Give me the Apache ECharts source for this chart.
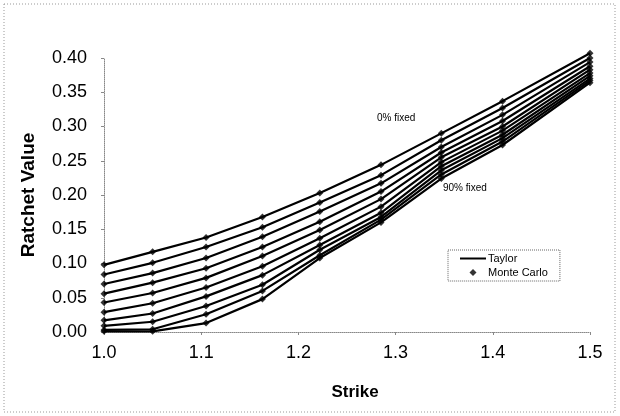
<!DOCTYPE html>
<html>
<head>
<meta charset="utf-8">
<script src="https://cdn.jsdelivr.net/npm/echarts@6/dist/echarts.min.js"></script>
<style>
  html, body { margin: 0; padding: 0; background: #fff; }
  #chart { width: 620px; height: 416px; }
</style>
</head>
<body>
<div id="chart"></div>
<script>
// strike grid
const strikes = [1.0, 1.05, 1.105, 1.163, 1.222, 1.285, 1.347, 1.41, 1.5]
// ratchet values, top curve = 0% fixed ... bottom curve = 90% fixed
const fixed0 = [0.098, 0.117, 0.138, 0.168, 0.203, 0.244, 0.290, 0.337, 0.407]
const fixed10 = [0.084, 0.101, 0.124, 0.153, 0.189, 0.229, 0.280, 0.327, 0.400]
const fixed20 = [0.070, 0.086, 0.108, 0.139, 0.176, 0.217, 0.270, 0.317, 0.394]
const fixed30 = [0.056, 0.072, 0.093, 0.124, 0.161, 0.205, 0.262, 0.308, 0.388]
const fixed40 = [0.043, 0.057, 0.079, 0.111, 0.149, 0.194, 0.255, 0.300, 0.383]
const fixed50 = [0.029, 0.042, 0.065, 0.096, 0.137, 0.183, 0.248, 0.294, 0.378]
const fixed60 = [0.017, 0.027, 0.052, 0.083, 0.127, 0.174, 0.242, 0.288, 0.374]
const fixed70 = [0.009, 0.015, 0.038, 0.069, 0.120, 0.168, 0.236, 0.283, 0.370]
const fixed80 = [0.003, 0.004, 0.026, 0.060, 0.112, 0.164, 0.230, 0.278, 0.367]
const fixed90 = [0.001, 0.001, 0.013, 0.048, 0.108, 0.160, 0.224, 0.273, 0.364]
const curves = [fixed0, fixed10, fixed20, fixed30, fixed40, fixed50, fixed60, fixed70, fixed80, fixed90]

const chart = echarts.init(document.getElementById('chart'))
const font = 'Liberation Sans, Arial, sans-serif'

const series = []
curves.forEach(vals => {
  const pts = strikes.map((s, i) => [s, vals[i]])
  series.push({
    name: 'Taylor',
    type: 'line',
    symbol: 'none',
    clip: false,
    lineStyle: { color: '#000', width: 2.2 },
    itemStyle: { color: '#000' },
    data: pts
  })
  series.push({
    name: 'Monte Carlo',
    type: 'scatter',
    symbol: 'diamond',
    symbolSize: 7,
    clip: false,
    itemStyle: { color: '#000' },
    data: pts
  })
})

const option = {
  animation: false,
  backgroundColor: '#fff',
  grid: { left: 104, right: 30, top: 58, bottom: 84 },
  xAxis: {
    type: 'value',
    min: 1.0,
    max: 1.5,
    interval: 0.1,
    name: 'Strike',
    nameLocation: 'middle',
    nameGap: 52,
    nameTextStyle: { fontFamily: font, fontSize: 17, fontWeight: 'bold', color: '#000', padding: [0, 0, 0, 16] },
    axisLine: { lineStyle: { color: '#888', type: 'dotted' } },
    axisTick: { show: true, length: 3, lineStyle: { color: '#888' } },
    splitLine: { show: false },
    axisLabel: { fontFamily: font, fontSize: 18, color: '#000', margin: 12, formatter: v => v.toFixed(1) }
  },
  yAxis: {
    type: 'value',
    min: 0,
    max: 0.4,
    interval: 0.05,
    name: 'Ratchet Value',
    nameLocation: 'middle',
    nameGap: 66,
    nameTextStyle: { fontFamily: font, fontSize: 19, fontWeight: 'bold', color: '#000' },
    axisLine: { show: true, lineStyle: { color: '#888', type: 'dotted' } },
    axisTick: { show: true, length: 3, lineStyle: { color: '#888' } },
    splitLine: { show: false },
    axisLabel: { fontFamily: font, fontSize: 18, color: '#000', margin: 17, formatter: v => v.toFixed(2) }
  },
  legend: {
    orient: 'vertical',
    left: 448,
    top: 250,
    padding: [3, 12, 3, 12],
    itemGap: 3,
    itemWidth: 26,
    itemHeight: 7,
    symbolKeepAspect: true,
    borderColor: '#666',
    borderWidth: 1,
    borderType: 'dotted',
    textStyle: { fontFamily: font, fontSize: 11, color: '#000', padding: [0, 0, 0, -3] },
    data: [
      { name: 'Taylor', icon: 'path://M0,0H26V2H0Z' },
      { name: 'Monte Carlo', icon: 'path://M5,0L10,5L5,10L0,5Z' }
    ]
  },
  graphic: [
    {
      type: 'rect',
      shape: { x: 4, y: 4, width: 611, height: 408 },
      style: { fill: 'none', stroke: '#999', lineWidth: 1, lineDash: [1, 2] }
    },
    {
      type: 'text', left: 377, top: 113,
      style: { text: '0% fixed', fontFamily: font, fontSize: 10, fill: '#000' }
    },
    {
      type: 'text', left: 443, top: 183,
      style: { text: '90% fixed', fontFamily: font, fontSize: 10, fill: '#000' }
    }
  ],
  series: series
}
chart.setOption(option)
</script>
</body>
</html>
